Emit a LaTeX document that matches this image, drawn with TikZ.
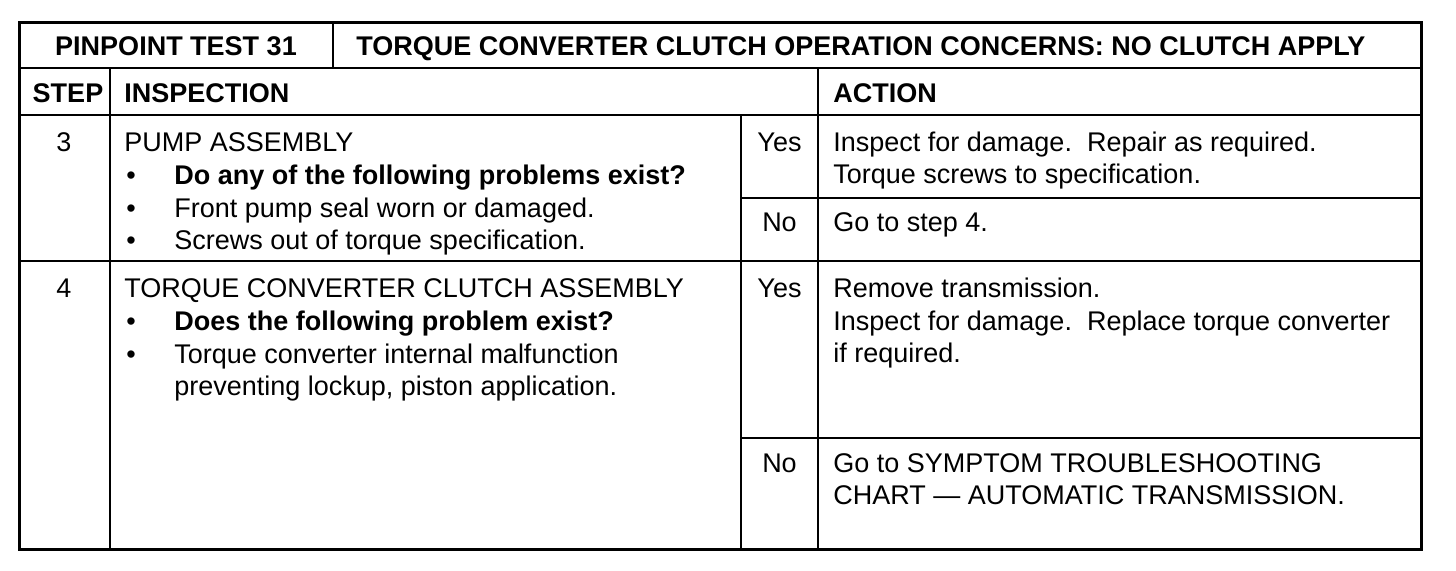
\documentclass[tikz,border=0pt]{standalone}
\usepackage{fontspec}
\setmainfont{Liberation Sans}
\usetikzlibrary{positioning}

\begin{document}
\begin{tikzpicture}[x=0.5pt, y=-0.5pt, font=\fontsize{13.5}{16}\selectfont]
    \tikzstyle{txt}=[anchor=base west, inner sep=0pt]
    \tikzstyle{ctr}=[anchor=base, inner sep=0pt]
    \tikzstyle{hd}=[font=\fontsize{13.5}{16}\selectfont\bfseries]
    \tikzstyle{rule}=[line width=1pt]
    \tikzstyle{frame}=[line width=1.5pt]

    \useasboundingbox (0,0) rectangle (1456,570);

    % table rules
    \coordinate (nw) at (19,22);
    \coordinate (se) at (1421,549);
    \draw[rule] (19,68) -- (1421,68);
    \draw[rule] (19,115) -- (1421,115);
    \draw[rule] (19,261) -- (1421,261);
    \draw[rule] (741,198) -- (1421,198);
    \draw[rule] (741,438) -- (1421,438);
    \draw[rule] (333,22) -- (333,68);
    \draw[rule] (110,68) -- (110,549);
    \draw[rule] (818,68) -- (818,549);
    \draw[rule] (741,115) -- (741,549);
    \draw[frame] (nw) rectangle (se);

    % header
    \node[ctr, hd] (pin) at (176,55.5) {PINPOINT TEST 31};
    \node[txt, hd] (title) at (356,55.5) {TORQUE CONVERTER CLUTCH OPERATION CONCERNS: NO CLUTCH APPLY};
    \node[ctr, hd] (step) at (68,102.5) {STEP};
    \node[txt, hd] (insp) at (124,102.5) {INSPECTION};
    \node[txt, hd] (act) at (833,102.5) {ACTION};

    % step 3
    \node[ctr] (s3) at (64,151) {3};
    \node[txt] (s3a) at (124,151) {PUMP ASSEMBLY};
    \node[txt] (s3b1) at (126,184) {\textbullet};
    \node[txt, hd] (s3b) at (174,184) {Do any of the following problems exist?};
    \node[txt] (s3c1) at (126,217) {\textbullet};
    \node[txt] (s3c) at (174,217) {Front pump seal worn or damaged.};
    \node[txt] (s3d1) at (126,249) {\textbullet};
    \node[txt] (s3d) at (174,249) {Screws out of torque specification.};
    \node[ctr] (s3yes) at (779.5,151) {Yes};
    \node[txt] (s3ya) at (833,151) {Inspect for damage.\ \ Repair as required.};
    \node[txt] (s3yb) at (833,183) {Torque screws to specification.};
    \node[ctr] (s3no) at (779.5,231) {No};
    \node[txt] (s3na) at (833,231) {Go to step 4.};

    % step 4
    \node[ctr] (s4) at (64,297) {4};
    \node[txt] (s4a) at (124,297) {TORQUE CONVERTER CLUTCH ASSEMBLY};
    \node[txt] (s4b1) at (126,330) {\textbullet};
    \node[txt, hd] (s4b) at (174,330) {Does the following problem exist?};
    \node[txt] (s4c1) at (126,363) {\textbullet};
    \node[txt] (s4c) at (174,363) {Torque converter internal malfunction};
    \node[txt] (s4d) at (174,395) {preventing lockup, piston application.};
    \node[ctr] (s4yes) at (779.5,297) {Yes};
    \node[txt] (s4ya) at (833,297) {Remove transmission.};
    \node[txt] (s4yb) at (833,330) {Inspect for damage.\ \ Replace torque converter};
    \node[txt] (s4yc) at (833,362) {if required.};
    \node[ctr] (s4no) at (779.5,472) {No};
    \node[txt] (s4na) at (833,472) {Go to SYMPTOM TROUBLESHOOTING};
    \node[txt] (s4nb) at (833,504) {CHART --- AUTOMATIC TRANSMISSION.};
\end{tikzpicture}
\end{document}
